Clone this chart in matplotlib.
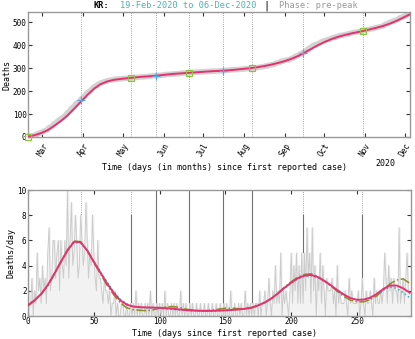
import numpy as np
import pandas as pd
import matplotlib
matplotlib.use("Agg")
import matplotlib.pyplot as plt

plt.rcParams['font.family'] = ['DejaVu Sans Mono']

# daily reported deaths (KR), day 0 = 19-Feb-2020
daily = [0,1,1,3,0,2,1,5,2,3,
         1,4,2,3,1,5,7,2,3,6,
         6,3,5,6,2,6,4,3,6,4,
         10,3,6,9,4,5,8,6,3,4,
         8,6,4,5,9,6,3,5,4,8,
         5,3,2,6,3,3,2,1,3,2,
         2,1,2,0,1,1,2,0,1,0,
         0,1,1,0,0,1,0,0,1,0,
         1,0,2,0,1,0,1,0,0,1,
         0,1,0,2,0,1,0,0,1,0,
         1,0,1,0,2,0,1,0,0,1,
         0,1,0,1,0,0,2,0,1,0,
         1,0,0,1,0,1,0,0,1,0,
         0,1,0,0,1,0,0,1,0,0,
         1,0,0,1,0,0,1,0,0,1,
         0,1,0,0,2,0,0,1,0,0,
         1,0,1,0,0,2,0,1,0,1,
         0,1,0,1,1,0,2,0,1,1,
         2,0,1,3,1,0,2,1,4,1,
         2,1,5,0,2,1,2,1,0,2,
         5,1,4,2,5,1,4,1,5,1,
         5,2,7,3,5,1,7,2,4,0,
         3,2,5,1,4,2,0,3,2,2,
         2,3,1,2,0,4,1,2,1,1,
         1,2,1,0,3,1,2,1,1,1,
         1,2,0,1,3,1,0,2,1,1,
         2,1,0,3,1,2,1,1,2,1,
         2,5,3,1,4,2,3,1,3,2,
         2,1,7,1,2,3,1,3,5,2,2]

# fitted curves sampled every 5 days
fit_days = list(range(0, 291, 5))
fit_cum = [2,8,17,30,49,70,94,123,153,183,
           210,230,242,249,253,256,259,262,264,266,
           269,272,275,277,279,281,283,285,287,288,
           290,292,295,298,301,305,310,316,323,331,
           341,353,368,384,400,414,426,436,444,451,
           457,463,470,477,485,495,507,521,535]
fit_rate = [0.86,1.25,1.75,2.45,3.35,4.3,5.2,5.9,5.85,5.2,
            4.3,3.45,2.6,1.85,1.25,0.9,0.75,0.7,0.68,0.67,
            0.65,0.62,0.58,0.52,0.47,0.44,0.42,0.41,0.41,0.43,
            0.45,0.48,0.52,0.58,0.67,0.85,1.08,1.4,1.8,2.25,
            2.65,3.0,3.2,3.26,3.1,2.8,2.45,2.05,1.7,1.42,
            1.28,1.3,1.45,1.75,2.15,2.42,2.42,2.2,1.85]
rate_cyan = [0.86,1.25,1.75,2.45,3.35,4.3,5.2,5.85,5.8,5.2,
             4.35,3.5,2.7,1.95,1.35,0.95,0.75,0.68,0.65,0.63,
             0.6,0.57,0.53,0.48,0.44,0.41,0.39,0.38,0.38,0.4,
             0.43,0.47,0.52,0.58,0.67,0.85,1.08,1.38,1.78,2.2,
             2.6,2.95,3.15,3.2,3.05,2.75,2.4,2.0,1.68,1.42,
             1.3,1.32,1.45,1.7,2.05,2.3,2.2,1.85,1.45]
rate_olive = [0.8,1.2,1.7,2.4,3.3,4.3,5.25,5.95,5.9,5.2,
              4.25,3.35,2.45,1.7,1.05,0.65,0.5,0.45,0.42,0.48,
              0.62,0.73,0.75,0.68,0.55,0.46,0.42,0.42,0.46,0.55,
              0.62,0.62,0.58,0.58,0.65,0.82,1.05,1.4,1.82,2.3,
              2.72,3.08,3.3,3.35,3.15,2.8,2.4,1.95,1.55,1.25,
              1.12,1.12,1.3,1.6,2.05,2.55,2.85,2.95,2.6]

# breakpoints (days) and marker types
breaks = [40, 78, 97, 122, 148, 170, 209, 254]
square_days = [0, 78, 122, 170, 254]
plus_days = [40, 97, 148, 209]
bar_days = [0, 40, 78, 97, 122, 148, 170, 209, 254]
bar_heights = [8, 8, 8, 10, 10, 10, 10, 8, 8]

start = pd.Timestamp('2020-02-19')
months = pd.date_range('2020-03-01', '2020-12-01', freq='MS')
month_pos = [(m - start).days for m in months]
month_lab = [m.strftime('%b') for m in months]

days = np.arange(len(daily))
cum = np.cumsum(daily) - daily[0]

MAG = '#e5316f'
CYAN = '#27b3c4'
OLIVE = '#8d8d2a'
SPINE = '#999999'

fig = plt.figure(figsize=(4.15, 3.39), dpi=100)
ax1 = fig.add_axes([28/415, 1-137/339, 382/415, 125/339])
ax2 = fig.add_axes([28/415, 1-316/339, 383/415, 126/339])

# ---- top: cumulative
for b in breaks:
    ax1.axvline(b, color='#888888', ls=':', lw=0.6, zorder=1)
ax1.plot(days, cum, color='#d2d2d2', lw=4, solid_capstyle='round', zorder=2)
ax1.plot(fit_days, fit_cum, color=MAG, lw=1.4, zorder=4)
sq_y = [cum[d] for d in square_days]
pl_y = [cum[d] for d in plus_days]
ax1.plot(square_days, sq_y, 's', mfc='none', mec='#8cc43c', ms=5, mew=0.9, zorder=5, clip_on=False)
ax1.plot(plus_days, pl_y, '+', color='#5aa8e0', ms=6, mew=0.9, zorder=5)
ax1.set_xlim(0, 290)
ax1.set_ylim(0, 545)
ax1.set_xticks(month_pos)
ax1.set_xticklabels(month_lab, rotation=60, ha='center', fontsize=5.5)
ax1.set_yticks([0, 100, 200, 300, 400, 500])
ax1.tick_params(axis='y', labelsize=5.5, pad=1)
ax1.set_ylabel('Deaths', fontsize=6, labelpad=1)
ax1.set_xlabel('Time (days (in months) since first reported case)', fontsize=6, labelpad=0)
ax1.xaxis.set_label_coords(0.515, -0.205)
fig.text(385/415, 1-163/339, '2020', fontsize=6, ha='center', va='center')

# ---- bottom: daily
for d, h in zip(bar_days, bar_heights):
    ax2.axvline(d, color='#888888', ls=':', lw=0.6, zorder=1)
    ax2.plot([d, d], [0, h], color='#707070', lw=0.8, zorder=1)
ax2.fill_between(days, daily, color='#f2f2f2', step='mid', zorder=1)
ax2.plot(days, daily, color='#cccccc', lw=0.7, zorder=2)
ax2.plot(fit_days, rate_olive, color=OLIVE, lw=1.1, ls='-.', zorder=3)
ax2.plot(fit_days, rate_cyan, color=CYAN, lw=1.1, ls=':', zorder=3)
ax2.plot(fit_days, fit_rate, color=MAG, lw=1.4, zorder=4)
ax2.set_xlim(0, 291)
ax2.set_ylim(0, 10)
ax2.set_xticks([0, 50, 100, 150, 200, 250])
ax2.set_yticks([0, 2, 4, 6, 8, 10])
ax2.tick_params(labelsize=5.5, pad=1)
ax2.set_ylabel('Deaths/day', fontsize=6, labelpad=1)
ax2.set_xlabel('Time (days since first reported case)', fontsize=6, labelpad=1)
ax2.xaxis.set_label_coords(0.512, -0.1)

for ax in (ax1, ax2):
    ax.tick_params(direction='in', top=True, right=True, length=3, width=0.8, color='#333333')
    for s in ax.spines.values():
        s.set_color(SPINE)
        s.set_linewidth(1.0)

# title line
fig.text(93/415, 1-6/339, 'KR:', fontsize=6.2, weight='bold', va='center')
fig.text(120/415, 1-6/339, '19-Feb-2020 to 06-Dec-2020', fontsize=6.2, color='#52b0b0', va='center')
fig.text(266/415, 1-6/339, '|', fontsize=7.5, color='black', va='center', ha='center')
fig.text(279/415, 1-6/339, 'Phase: pre-peak', fontsize=6.2, color='#999999', va='center')

fig.savefig('out.png', dpi=100)
